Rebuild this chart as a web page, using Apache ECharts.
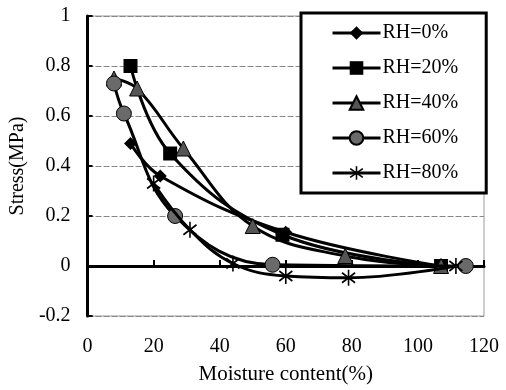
<!DOCTYPE html>
<html><head><meta charset="utf-8">
<script src="https://cdn.jsdelivr.net/npm/echarts@6/dist/echarts.min.js"></script>
<style>html,body{margin:0;padding:0;background:#fff}#c{width:506px;height:390px}</style>
</head><body><div id="c"></div>
<script>
const seriesNames = ['RH=0%', 'RH=20%', 'RH=40%', 'RH=60%', 'RH=80%'];
const rh0 = [[13, 0.49], [22, 0.36], [60, 0.135], [107, 0]];
const rh20 = [[13, 0.80], [25, 0.45], [59, 0.125], [107, 0]];
const rh40 = [[8, 0.75], [15, 0.71], [29, 0.47], [50, 0.16], [78, 0.04], [107, 0]];
const rh60 = [[8, 0.73], [11, 0.61], [26.5, 0.20], [56, 0.005], [114.5, 0]];
const rh80 = [[20, 0.33], [31, 0.145], [44, 0.01], [60, -0.04], [79, -0.047], [111.5, 0]];
const yTicks = [-0.2, 0, 0.2, 0.4, 0.6, 0.8, 1];
const xTicks = [0, 20, 40, 60, 80, 100, 120];

const FONT = 'Liberation Serif';
const star = 'path://M9 0 L11 0 L11 20 L9 20 Z M1.2 4.6 L2.4 2.8 L18.8 15.4 L17.6 17.2 Z M17.6 2.8 L18.8 4.6 L2.4 17.2 L1.2 15.4 Z';
const styles = [
  {symbol: 'diamond', size: 13, color: '#000'},
  {symbol: 'rect', size: 14, color: '#000'},
  {symbol: 'triangle', size: 15, color: '#555'},
  {symbol: 'circle', size: 15, color: '#6a6a6a'},
  {symbol: star, size: 16, color: '#000'}
];
const datas = [rh0, rh20, rh40, rh60, rh80];

const chart = echarts.init(document.getElementById('c'));
chart.setOption({
  animation: false,
  backgroundColor: '#fff',
  grid: {left: 85, right: 22, top: 16, bottom: 67, show: true, borderColor: '#9a9a9a', borderWidth: 1},
  legend: {
    orient: 'vertical', left: 301, top: 13,
    width: 190,
    padding: [10, 28, 10, 30],
    itemGap: 15, itemWidth: 48, itemHeight: 17,
    backgroundColor: '#fff', borderColor: '#000', borderWidth: 3,
    lineStyle: {width: 3, color: '#000'},
    textStyle: {fontFamily: FONT, fontSize: 20, color: '#000', padding: [0, 0, 0, -3]},
    data: seriesNames
  },
  xAxis: {
    type: 'value', min: 0, max: 120, interval: 20,
    name: 'Moisture content(%)', nameLocation: 'middle', nameGap: 48,
    nameTextStyle: {fontFamily: FONT, fontSize: 21, color: '#000'},
    axisLine: {lineStyle: {color: '#000', width: 3}},
    axisTick: {inside: true, length: 6, lineStyle: {color: '#000', width: 2}},
    axisLabel: {fontFamily: FONT, fontSize: 20, color: '#000', margin: 21,
      formatter: v => xTicks.includes(v) ? String(v) : ''},
    splitLine: {show: false}
  },
  yAxis: {
    type: 'value', min: -0.2, max: 1, interval: 0.2,
    name: 'Stress(MPa)', nameLocation: 'middle', nameGap: 55,
    nameTextStyle: {fontFamily: FONT, fontSize: 20, color: '#000'},
    axisLine: {lineStyle: {color: '#000', width: 3}},
    axisTick: {inside: true, length: 5, lineStyle: {color: '#000', width: 2}},
    axisLabel: {fontFamily: FONT, fontSize: 20, color: '#000', margin: 17,
      formatter: v => { const r = Math.round(v * 10) / 10; return yTicks.includes(r) ? String(r) : ''; }},
    splitLine: {show: true, lineStyle: {color: '#888', width: 1, type: [6, 2]}}
  },
  series: datas.map((d, i) => ({
    name: seriesNames[i], type: 'line', data: d, smooth: 0.4,
    symbol: styles[i].symbol, symbolSize: styles[i].size, symbolKeepAspect: true,
    lineStyle: {color: '#000', width: 3},
    itemStyle: {color: styles[i].color, borderColor: '#000', borderWidth: (i === 2 || i === 3) ? 1 : 0},
    z: 2 + i
  }))
});
</script></body></html>
